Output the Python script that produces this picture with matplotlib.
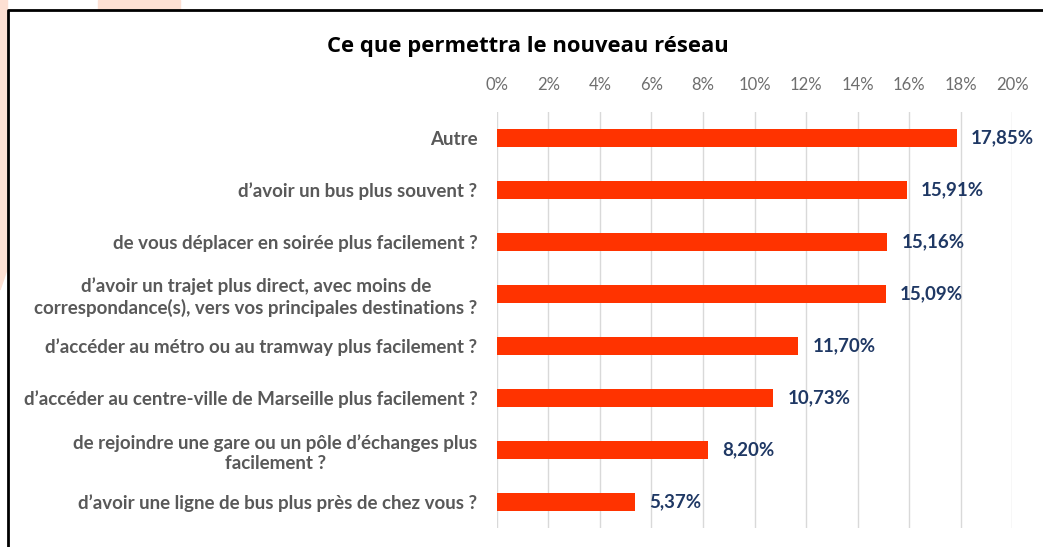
import numpy as np
import matplotlib.pyplot as plt
from matplotlib.patches import Polygon
from matplotlib.lines import Line2D
from matplotlib.ticker import FuncFormatter

plt.rcParams['font.family'] = ['Lato', 'DejaVu Sans']

categories = [
    "Autre",
    "d\u2019avoir un bus plus souvent ?",
    "de vous déplacer en soirée plus facilement ?",
    "d\u2019avoir un trajet plus direct, avec moins de\ncorrespondance(s), vers vos principales destinations ?",
    "d\u2019accéder au métro ou au tramway plus facilement ?",
    "d\u2019accéder au centre-ville de Marseille plus facilement ?",
    "de rejoindre une gare ou un pôle d\u2019échanges plus\nfacilement ?",
    "d\u2019avoir une ligne de bus plus près de chez vous ?",
]
values = [17.85, 15.91, 15.16, 15.09, 11.70, 10.73, 8.20, 5.37]
value_labels = ["17,85%", "15,91%", "15,16%", "15,09%", "11,70%", "10,73%", "8,20%", "5,37%"]
xticks = np.arange(0, 21, 2)

bar_color = '#FF3300'
label_color = '#1F3864'
grey = '#595959'

fig = plt.figure(figsize=(10.43, 5.47), dpi=100)
ax = fig.add_axes([0.4765, 0.0347, 0.4938, 0.7605])

y = np.arange(len(categories))
ax.barh(y, values, height=0.33, color=bar_color, zorder=3)
ax.set_ylim(len(categories) - 0.5, -0.5)
ax.set_xlim(0, 20)
ax.set_xticks(xticks)
ax.xaxis.set_major_formatter(FuncFormatter(lambda v, p: f"{int(v)}%"))
ax.xaxis.tick_top()
ax.tick_params(axis='x', length=0, pad=14, labelsize=12, labelcolor='#6E6E6E')
ax.set_yticks(y)
ax.set_yticklabels(categories, fontsize=13.5, fontweight='bold', color=grey, ha='right',
                   multialignment='center', linespacing=1.25)
ax.tick_params(axis='y', length=0, pad=14)
ax.grid(axis='x', color='#D9D9D9', linewidth=1, zorder=0)
for s in ax.spines.values():
    s.set_visible(False)

for yi, v, lab in zip(y, values, value_labels):
    ax.text(v + 0.55, yi, lab, va='center', ha='left', fontsize=13.5,
            fontweight='bold', color=label_color)

fig.text(0.506, 0.915, "Ce que permettra le nouveau réseau", ha='center', va='center',
         fontsize=15.8, fontweight='bold', color='black', family=['Open Sans', 'DejaVu Sans'])

# decorative background and frame
fig.patches.append(Polygon([[0, 1], [0.0072, 1], [0.0072, 0.51], [0, 0.47]],
                           closed=True, transform=fig.transFigure, color='#FDE0D3', zorder=0))
fig.patches.append(Polygon([[0.094, 1], [0.173, 1], [0.173, 0.983], [0.094, 0.983]],
                           closed=True, transform=fig.transFigure, color='#FDE0D3', zorder=0))
fig.lines.append(Line2D([0.0077, 0.0077, 1.0], [0.0, 0.981, 0.981], transform=fig.transFigure,
                        color='black', linewidth=2))

fig.savefig('out.png', dpi=100)
